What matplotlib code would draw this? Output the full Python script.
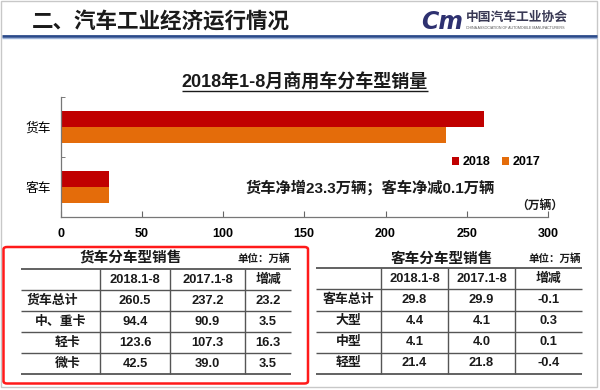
import matplotlib
matplotlib.use("Agg")
import matplotlib.pyplot as plt
from matplotlib.lines import Line2D
from matplotlib.patches import FancyBboxPatch, Rectangle
import numpy as np

plt.rcParams['font.family'] = ['Liberation Sans', 'Noto Sans CJK SC', 'DejaVu Sans']

# ---- data ----
categories = ['客车', '货车']
sales_2018 = [29.8, 260.5]
sales_2017 = [29.9, 237.2]
series_labels = ['2018', '2017']
x_ticks = [0, 50, 100, 150, 200, 250, 300]

table_cols = ['2018.1-8', '2017.1-8', '增减']
truck_rows = ['货车总计', '中、重卡', '轻卡', '微卡']
truck_2018 = [260.5, 94.4, 123.6, 42.5]
truck_2017 = [237.2, 90.9, 107.3, 39.0]
truck_diff = [23.2, 3.5, 16.3, 3.5]
bus_rows = ['客车总计', '大型', '中型', '轻型']
bus_2018 = [29.8, 4.4, 4.1, 21.4]
bus_2017 = [29.9, 4.1, 4.0, 21.8]
bus_diff = [-0.1, 0.3, 0.1, -0.4]

W, H = 600, 390
fig = plt.figure(figsize=(6, 3.9), dpi=100)
fig.patch.set_facecolor('white')


def fx(x):
    return x / W


def fy(y):
    return 1 - y / H


def hline(x0, x1, y, color, lw):
    fig.add_artist(Line2D([fx(x0), fx(x1)], [fy(y), fy(y)], color=color, lw=lw,
                          transform=fig.transFigure, solid_capstyle='butt'))


def vline(x, y0, y1, color, lw):
    fig.add_artist(Line2D([fx(x), fx(x)], [fy(y0), fy(y1)], color=color, lw=lw,
                          transform=fig.transFigure, solid_capstyle='butt'))


def text(x, y, s, **kw):
    fig.text(fx(x), fy(y), s, **kw)

# slide border
fig.add_artist(Rectangle((fx(0.5), fy(387)), fx(596.5), (387 - 0.5) / H, fill=False,
                         edgecolor='#C8C8C8', lw=1.0, transform=fig.transFigure))

# header
text(32, 23, '二、汽车工业经济运行情况', fontsize=15.5, fontweight='bold', color='#1a1a1a',
     va='center', ha='left')
hline(2, 597, 36, '#2A4A8A', 2.0)
hline(2, 597, 38, '#9DB3D8', 1.0)
text(442, 22, 'Cm', fontsize=17, fontweight='bold', fontstyle='italic', color='#2E3170',
     ha='center', va='center', family=['DejaVu Sans'])
text(466, 18, '中国汽车工业协会', fontsize=9.2, fontweight='bold', color='#3A3A55',
     ha='left', va='center')
text(466, 28, 'CHINA ASSOCIATION OF AUTOMOBILE MANUFACTURERS', fontsize=2.6,
     color='#555555', ha='left', va='center')

# ---- bar chart ----
ax = fig.add_axes([fx(60.5), fy(217), (548 - 60.5) / W, (217 - 97) / H])
ypos = np.arange(len(categories))
h = 0.26
ax.barh(ypos + h / 2, sales_2018, height=h, color='#C00000', label=series_labels[0])
ax.barh(ypos - h / 2, sales_2017, height=h, color='#E46C0A', label=series_labels[1])
ax.set_xlim(0, 300)
ax.set_ylim(-0.5, 1.5)
ax.set_xticks(x_ticks)
ax.set_xticklabels([str(t) for t in x_ticks], fontsize=9, fontweight='bold')
ax.set_yticks(ypos)
ax.set_yticklabels(categories, fontsize=9.2)
ax.set_yticks([-0.5, 0.5, 1.5], minor=True)
ax.tick_params(axis='y', which='major', length=0, pad=7)
ax.tick_params(axis='y', which='minor', direction='in', length=3, color='#666666')
ax.tick_params(axis='x', direction='in', length=4, color='#666666', pad=8)
for s in ['top', 'right']:
    ax.spines[s].set_visible(False)
for s in ['left', 'bottom']:
    ax.spines[s].set_color('#777777')
    ax.spines[s].set_linewidth(0.9)
ax.set_facecolor('none')

leg = ax.legend(loc='upper left', bbox_to_anchor=(fx(446), fy(150)), bbox_transform=fig.transFigure,
                ncol=2, frameon=False, handlelength=0.55, handleheight=0.55, handletextpad=0.3,
                columnspacing=0.9, prop={'size': 9, 'weight': 'bold'}, borderpad=0)

# chart title with underline
t = fig.text(fx(305), fy(83), '2018年1-8月商用车分车型销量', fontsize=13, fontweight='bold',
             ha='center', va='center', color='#1a1a1a')
fig.canvas.draw()
bb = t.get_window_extent(renderer=fig.canvas.get_renderer())
hline(bb.x0, bb.x1, 91, '#1a1a1a', 1.0)

text(370, 188, '货车净增23.3万辆；客车净减0.1万辆', fontsize=11, fontweight='bold',
     ha='center', va='center', color='#1a1a1a')
text(540, 206, '（万辆）', fontsize=8.5, fontweight='bold', ha='center', va='center', color='#1a1a1a')

# ---- tables ----
def draw_table(x0, x1, vx, ylines, title, title_x, label_x, label_ha, rows, c1, c2, c3):
    for i, y in enumerate(ylines):
        lw = 1.3 if i in (0, len(ylines) - 1) else 1.0
        hline(x0, x1, y, '#555555', lw)
    for x in vx:
        vline(x, ylines[0], ylines[-1], '#555555', 1.0)
    text(title_x, 258.5, title, fontsize=10.5, fontweight='bold', ha='center', va='center',
         color='#1a1a1a')
    text(x1 - 1, 259, '单位：万辆', fontsize=7.6, fontweight='bold', ha='right', va='center',
         color='#1a1a1a')
    edges = [vx[0], vx[1], vx[2], x1]
    centers = [(edges[i] + edges[i + 1]) / 2 for i in range(3)]
    yc = [(ylines[i] + ylines[i + 1]) / 2 for i in range(len(ylines) - 1)]
    for j, c in enumerate(table_cols):
        text(centers[j], yc[0], c, fontsize=9.3, fontweight='bold', ha='center', va='center',
             color='#1a1a1a')
    for i, r in enumerate(rows):
        y = yc[i + 1]
        text(label_x[i], y, r, fontsize=9.3, fontweight='bold', ha=label_ha, va='center',
             color='#1a1a1a')
        for j, vals in enumerate([c1, c2, c3]):
            text(centers[j], y, f'{vals[i]:.1f}', fontsize=9.3, fontweight='bold',
                 ha='center', va='center', color='#1a1a1a')

truck_lines = [269.3, 290.3, 311.3, 332.3, 353.3, 374.3]
draw_table(21, 291, [100, 170, 245], truck_lines, '货车分车型销售', 130.5,
           [27, 35, 55, 55], 'left', truck_rows, truck_2018, truck_2017, truck_diff)
bus_lines = [268.3, 289.3, 310.7, 331.7, 352.7, 374]
draw_table(316, 582, [381, 448, 515], bus_lines, '客车分车型销售', 441.5,
           [348.5] * 4, 'center', bus_rows, bus_2018, bus_2017, bus_diff)

# red highlight box
fig.add_artist(FancyBboxPatch((fx(3.5), fy(383.5)), fx(304.5), (383.5 - 247) / H,
                              boxstyle='round,pad=0,rounding_size=0.006', fill=False,
                              edgecolor='#FF1A1A', lw=1.8, transform=fig.transFigure))

fig.savefig('out.png', dpi=100)
